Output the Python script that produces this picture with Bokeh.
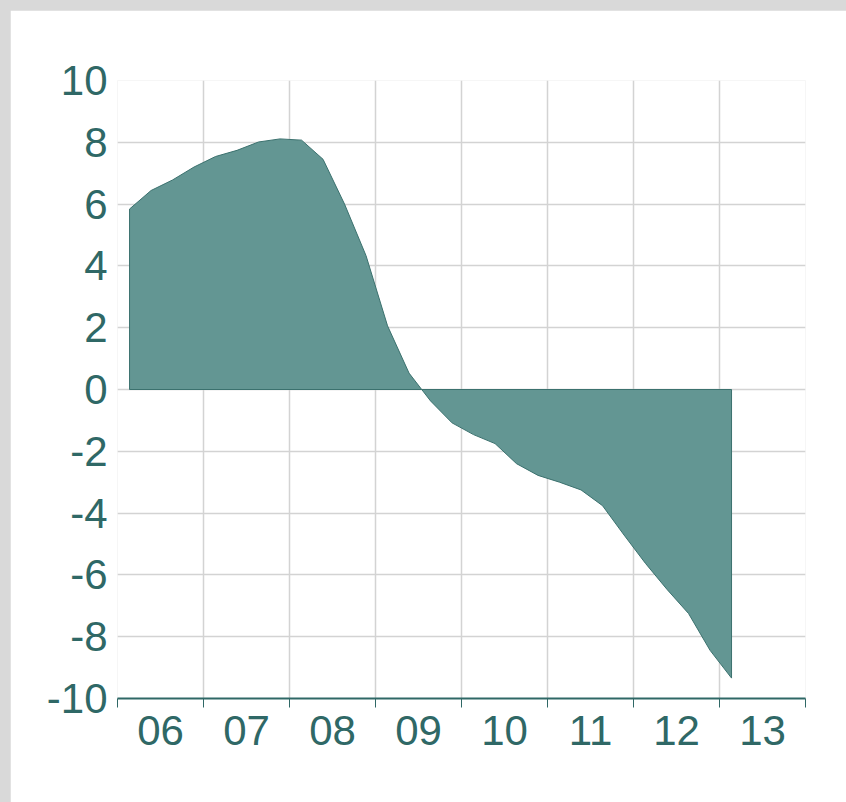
from bokeh.plotting import figure
from bokeh.models import FixedTicker, GlobalInlineStyleSheet
from bokeh.embed import file_html
from bokeh.resources import INLINE

# ---- data (quarterly, %) ----
quarters = ["2006Q1", "2006Q2", "2006Q3", "2006Q4",
            "2007Q1", "2007Q2", "2007Q3", "2007Q4",
            "2008Q1", "2008Q2", "2008Q3", "2008Q4",
            "2009Q1", "2009Q2", "2009Q3", "2009Q4",
            "2010Q1", "2010Q2", "2010Q3", "2010Q4",
            "2011Q1", "2011Q2", "2011Q3", "2011Q4",
            "2012Q1", "2012Q2", "2012Q3", "2012Q4",
            "2013Q1"]
values = [5.84, 6.44, 6.78, 7.20,
          7.54, 7.74, 8.01, 8.11,
          8.07, 7.45, 6.00, 4.33,
          2.06, 0.53, -0.37, -1.08,
          -1.46, -1.75, -2.40, -2.78,
          -3.00, -3.25, -3.76, -4.71,
          -5.63, -6.47, -7.25, -8.44,
          -9.34]
years = [2006, 2007, 2008, 2009, 2010, 2011, 2012, 2013]
year_labels = ["06", "07", "08", "09", "10", "11", "12", "13"]
y_ticks = [-10, -8, -6, -4, -2, 0, 2, 4, 6, 8, 10]
y_tick_labels = ["-10", "-8", "-6", "-4", "-2", "0", "2", "4", "6", "8", "10"]
y_grid = [-8, -6, -4, -2, 0, 2, 4, 6, 8]

# decimal-year position of each quarterly observation
x = [int(q[:4]) + (int(q[5]) - 1) / 4 + 0.14 for q in quarters]

TEAL_TEXT = "#2f6866"
FILL = "#639693"
EDGE = "#3b716e"
GRID = "#d3d3d3"
FONT = "Liberation Sans"
FSIZE = "42px"

p = figure(width=836, height=792,
           x_range=(years[0], years[-1] + 1), y_range=(y_ticks[0], y_ticks[-1]),
           output_backend="svg", toolbar_location=None,
           min_border_left=107, min_border_right=41,
           min_border_top=70, min_border_bottom=104)
p.stylesheets = [GlobalInlineStyleSheet(
    css="html, body { background: #d9d9d9; overflow: hidden; } "
        "body { padding: 10px 0 0 10px; }")]
p.background_fill_color = "white"
p.border_fill_color = "white"
p.outline_line_color = None

# filled area (polygon closed on the zero line)
xs = [x[0]] + x + [x[-1]]
ys = [0] + values + [0]
p.patch(xs, ys, fill_color=FILL, line_color=EDGE, line_width=1)

# x axis: labels at year centres, tick marks at year boundaries
centers = [yv + 0.5 for yv in years]
bounds = years + [years[-1] + 1]
xa = p.xaxis[0]
xa.ticker = FixedTicker(ticks=centers, minor_ticks=bounds)
xa.major_label_overrides = {c: lab for c, lab in zip(centers, year_labels)}
xa.major_tick_line_color = None
xa.major_tick_out = 0
xa.major_tick_in = 0
xa.minor_tick_line_color = TEAL_TEXT
xa.minor_tick_out = 9
xa.minor_tick_in = 0
xa.minor_tick_line_width = 1
xa.axis_line_color = TEAL_TEXT
xa.axis_line_width = 2
xa.major_label_text_font = FONT
xa.major_label_text_font_size = FSIZE
xa.major_label_text_color = TEAL_TEXT
xa.major_label_standoff = 8

ya = p.yaxis[0]
ya.ticker = FixedTicker(ticks=y_ticks)
ya.major_label_overrides = {t: lab for t, lab in zip(y_ticks, y_tick_labels)}
ya.axis_line_color = None
ya.major_tick_line_color = None
ya.minor_tick_line_color = None
ya.major_tick_out = 0
ya.major_tick_in = 0
ya.major_label_text_font = FONT
ya.major_label_text_font_size = FSIZE
ya.major_label_text_color = TEAL_TEXT
ya.major_label_standoff = 10

p.xgrid.ticker = FixedTicker(ticks=bounds[1:-1])
p.ygrid.ticker = FixedTicker(ticks=y_grid)
p.xgrid.grid_line_color = GRID
p.ygrid.grid_line_color = GRID
p.xgrid.grid_line_width = 1.5
p.ygrid.grid_line_width = 1.5

open("out.html", "w").write(file_html(p, INLINE))
